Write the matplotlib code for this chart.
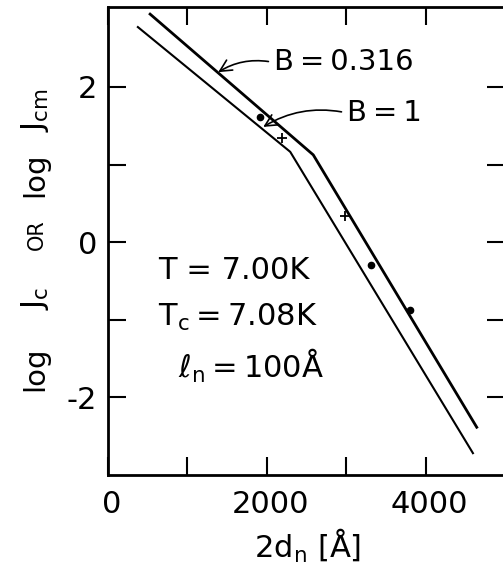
import numpy as np
import matplotlib
matplotlib.use('Agg')
import matplotlib.pyplot as plt
import matplotlib.transforms as mtransforms
from matplotlib.ticker import FixedLocator, FixedFormatter

# curves (piecewise straight lines): start, kink, end
x_B0316 = [517, 2585, 4653]
y_B0316 = [2.95, 1.125, -2.40]
x_B1 = [366, 2295, 4603]
y_B1 = [2.78, 1.164, -2.73]

# data points
x_dots = [1917, 3317, 3808]
y_dots = [1.61, -0.30, -0.88]
x_plus = [2194, 2989]
y_plus = [1.34, 0.34]

xticks_major = [0, 2000, 4000]
xticks_minor = [1000, 3000]
yticks_major = [-2, 0, 2]
yticks_minor = [-1, 1]
ytick_labels = ['-2', '0', '2']

plt.rcParams['font.family'] = 'DejaVu Sans'
TS = '\u2009'  # thin space

W, H = 503, 567
fig = plt.figure(figsize=(W / 100, H / 100), dpi=100)
ax = fig.add_axes([108 / W, 1 - 475 / H, (505 - 108) / W, (475 - 7) / H])

ax.plot(x_B0316, y_B0316, color='black', lw=2.0, solid_capstyle='butt')
ax.plot(x_B1, y_B1, color='black', lw=1.5, solid_capstyle='butt')
ax.plot(x_dots, y_dots, 'o', color='black', ms=4.5)
ax.plot(x_plus, y_plus, '+', color='black', ms=6.5, mew=1.3)

ax.set_xlim(0, 5000)
ax.set_ylim(-3, 3.03)

ax.xaxis.set_major_locator(FixedLocator(xticks_major))
ax.xaxis.set_minor_locator(FixedLocator(xticks_minor))
ax.yaxis.set_major_locator(FixedLocator(yticks_major))
ax.yaxis.set_minor_locator(FixedLocator(yticks_minor))
ax.yaxis.set_major_formatter(FixedFormatter(ytick_labels))

ax.tick_params(which='both', direction='in', length=13, width=1.5,
               top=True, right=True, labelsize=22)
ax.tick_params(axis='x', pad=11)
ax.tick_params(axis='y', pad=8)
for s in ax.spines.values():
    s.set_linewidth(2.0)

# x tick labels sit a little right of their ticks in the original
shift = mtransforms.ScaledTranslation(4 / 100, 0, fig.dpi_scale_trans)
for lab in ax.get_xticklabels():
    lab.set_transform(lab.get_transform() + shift)

# x label
fig.text(308 / W, 1 - 558 / H, r'2d$_\mathregular{n}$ [Å]', fontsize=22,
         ha='center', va='baseline')

# y label, built from pieces (the "OR" is small)
ybase = 43 / W
for txt, ypx, fs in [('log', 369, 21), (r'J$_\mathregular{c}$', 298, 22),
                     ('OR', 235, 15), ('log', 175, 21),
                     (r'J$_\mathregular{cm}$', 110, 22)]:
    fig.text(ybase, 1 - ypx / H, txt, fontsize=fs, rotation=90,
             rotation_mode='anchor', ha='center', va='baseline')

ax.annotate(f'B{TS}={TS}0.316', xy=(1387, 2.19), xytext=(2090, 2.315),
            fontsize=21, va='center', ha='left',
            arrowprops=dict(arrowstyle='->', color='black', lw=1.2,
                            relpos=(0, 0.5), shrinkA=2, shrinkB=0,
                            connectionstyle='arc3,rad=0.2'))
ax.annotate(f'B{TS}={TS}1', xy=(1955, 1.485), xytext=(3010, 1.665),
            fontsize=21, va='center', ha='left',
            arrowprops=dict(arrowstyle='->', color='black', lw=1.2,
                            relpos=(0, 0.5), shrinkA=2, shrinkB=0,
                            connectionstyle='arc3,rad=0.2'))

ax.text(630, -0.367, 'T = 7.00K', fontsize=22, va='center', ha='left')
ax.text(630, -0.97, r'T$_\mathregular{c}$' + f'{TS}={TS}7.08K', fontsize=22,
        va='center', ha='left')
ax.text(880, -1.59, r'$\ell_\mathregular{n}$' + f'{TS}={TS}100Å', fontsize=22,
        va='center', ha='left')

fig.savefig('out.png', dpi=100)
